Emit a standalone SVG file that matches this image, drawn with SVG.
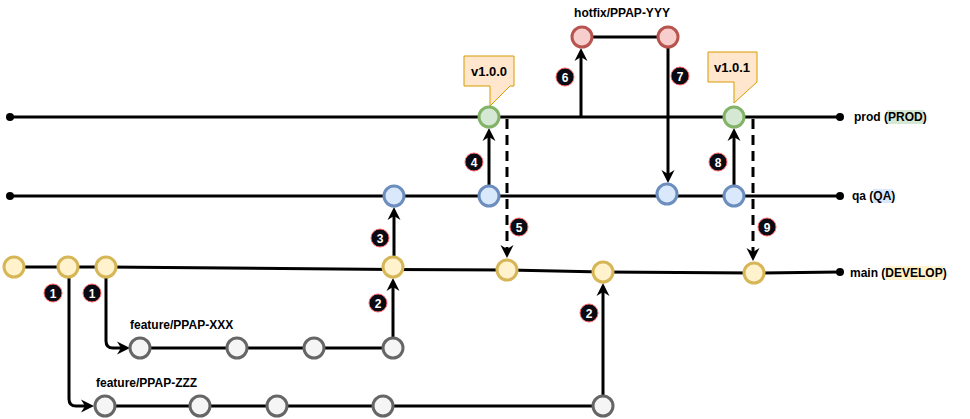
<svg xmlns="http://www.w3.org/2000/svg" width="970" height="419" viewBox="0 0 970 419">
<style>
text{font-family:"Liberation Sans",Arial,Helvetica,sans-serif;font-weight:bold;fill:#000}
.lane{stroke:#000;stroke-width:3;fill:none}
.conn{stroke:#000;stroke-width:3;fill:none;marker-end:url(#arr)}
.dash{stroke-dasharray:10 6}
.y{fill:#fff2cc;stroke:#d6b656;stroke-width:3}
.b{fill:#dae8fc;stroke:#6c8ebf;stroke-width:3}
.g{fill:#d5e8d4;stroke:#82b366;stroke-width:3}
.r{fill:#f8cecc;stroke:#b85450;stroke-width:3}
.k{fill:#f5f5f5;stroke:#666666;stroke-width:3}
.badge circle{fill:#0a0a14;stroke:#ff6666;stroke-width:1}
.badge text{fill:#fff;font-size:12px;text-anchor:middle}
.call{fill:#ffe6cc;stroke:#d79b00;stroke-width:1}
.lbl{font-size:12px}
.br{font-size:12px}
</style>
<defs>
<marker id="arr" markerUnits="userSpaceOnUse" markerWidth="14" markerHeight="14" viewBox="0 0 14 14" refX="4" refY="7" orient="auto">
<path d="M0,0.5 L13,7 L0,13.5 L4,7 Z" fill="#000"/>
</marker>
</defs>

<g id="lanes">
<line class="lane" x1="10" y1="117" x2="840" y2="117"/>
<circle cx="10" cy="117" r="4"/>
<circle cx="840" cy="117" r="4"/>
<line class="lane" x1="10" y1="196" x2="840" y2="196"/>
<circle cx="10" cy="196" r="4"/>
<circle cx="840" cy="196" r="4"/>
<polyline class="lane" points="14,267 106,267 393,269.5 507,270 603,272 754,273 840,272"/>
<circle cx="840" cy="272" r="4"/>
<line class="lane" x1="582" y1="37" x2="668" y2="37"/>
<line class="lane" x1="140" y1="348" x2="393" y2="348"/>
<line class="lane" x1="105" y1="406" x2="603" y2="406"/>
</g>

<g id="connectors">
<path class="conn" d="M69,277 L69,399 Q69,406 76,406 L85,406"/>
<path class="conn" d="M106,277 L106,341 Q106,348 113,348 L121,348"/>
<path class="conn" d="M393,338 L393,287"/>
<path class="conn" d="M603,396 L603,292"/>
<path class="conn" d="M394,257 L394,216"/>
<path class="conn" d="M489,186 L489,137"/>
<path class="conn dash" d="M507,119 L507,249"/>
<path class="conn" d="M581,117 L581,57"/>
<path class="conn" d="M668,47 L668,174"/>
<path class="conn" d="M734,186 L734,137"/>
<path class="conn dash" d="M753,119 L753,252"/>
</g>

<g id="callout-v100">
<path class="call" d="M464,56 H514 V86 H510 L490,106 L490,86 H464 Z"/>
<text x="489" y="76" text-anchor="middle" style="font-size:13px">v1.0.0</text>
</g>
<g id="callout-v101">
<path class="call" d="M708,52 H757 V82 L734,103 L734,82 H708 Z"/>
<text x="732" y="72" text-anchor="middle" style="font-size:13px">v1.0.1</text>
</g>

<g id="main-commits">
<circle class="y" cx="14" cy="267" r="10"/>
<circle class="y" cx="68" cy="267" r="10"/>
<circle class="y" cx="106" cy="267" r="10"/>
<circle class="y" cx="393" cy="267" r="10"/>
<circle class="y" cx="507" cy="270" r="10"/>
<circle class="y" cx="603" cy="272" r="10"/>
<circle class="y" cx="754" cy="273" r="10"/>
</g>
<g id="qa-commits">
<circle class="b" cx="394" cy="196" r="10"/>
<circle class="b" cx="489" cy="196" r="10"/>
<circle class="b" cx="667" cy="194" r="10"/>
<circle class="b" cx="734" cy="196" r="10"/>
</g>
<g id="prod-commits">
<circle class="g" cx="489" cy="117" r="10"/>
<circle class="g" cx="734" cy="117" r="10"/>
</g>
<g id="hotfix-commits">
<circle class="r" cx="582" cy="37" r="10"/>
<circle class="r" cx="668" cy="37" r="10"/>
</g>
<g id="feature-xxx-commits">
<circle class="k" cx="140" cy="348" r="10"/>
<circle class="k" cx="237" cy="348" r="10"/>
<circle class="k" cx="314" cy="348" r="10"/>
<circle class="k" cx="393" cy="348" r="10"/>
</g>
<g id="feature-zzz-commits">
<circle class="k" cx="105" cy="406" r="10"/>
<circle class="k" cx="200" cy="406" r="10"/>
<circle class="k" cx="277" cy="406" r="10"/>
<circle class="k" cx="383" cy="406" r="10"/>
<circle class="k" cx="603" cy="406" r="10"/>
</g>

<g id="badges" class="badge">
<circle cx="53" cy="293" r="9"/><text x="53" y="297.5">1</text>
<circle cx="92" cy="293" r="9"/><text x="92" y="297.5">1</text>
<circle cx="378" cy="303" r="9"/><text x="378" y="307.5">2</text>
<circle cx="589" cy="313" r="9"/><text x="589" y="317.5">2</text>
<circle cx="380" cy="238" r="9"/><text x="380" y="242.5">3</text>
<circle cx="474" cy="162" r="9"/><text x="474" y="166.5">4</text>
<circle cx="519" cy="227" r="9"/><text x="519" y="231.5">5</text>
<circle cx="565" cy="77" r="9"/><text x="565" y="81.5">6</text>
<circle cx="680" cy="76" r="9"/><text x="680" y="80.5">7</text>
<circle cx="718" cy="162" r="9"/><text x="718" y="166.5">8</text>
<circle cx="767" cy="227" r="9"/><text x="767" y="231.5">9</text>
</g>

<g id="labels">
<text class="br" x="622" y="17" text-anchor="middle">hotfix/PPAP-YYY</text>
<text class="br" x="130" y="329">feature/PPAP-XXX</text>
<text class="br" x="96" y="387">feature/PPAP-ZZZ</text>
<rect x="887" y="110" width="37" height="14" fill="#d5e8d4"/>
<text class="lbl" x="854" y="121">prod (<tspan>PROD</tspan>)</text>
<rect x="873" y="189" width="20" height="14" fill="#dae8fc"/>
<text class="lbl" x="852" y="200">qa (<tspan>QA</tspan>)</text>
<rect x="885" y="266" width="59" height="14" fill="#fff2cc"/>
<text class="lbl" x="850" y="277">main (<tspan>DEVELOP</tspan>)</text>
</g>
</svg>
